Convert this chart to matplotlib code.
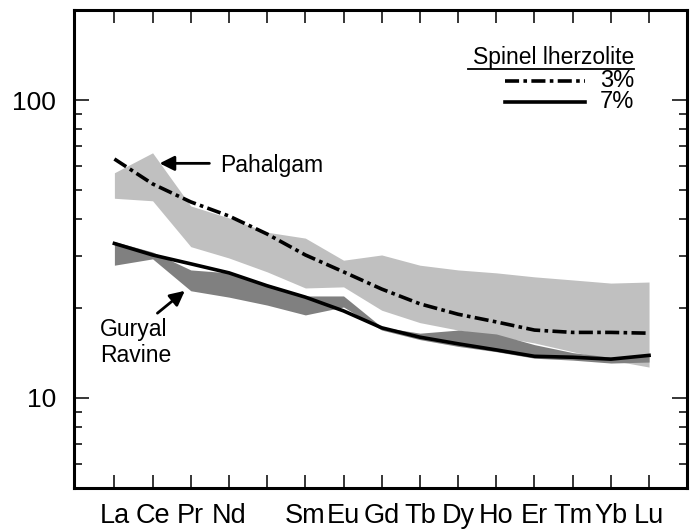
import numpy as np
import matplotlib
matplotlib.use('Agg')
import matplotlib.pyplot as plt
from matplotlib.ticker import LogLocator, NullFormatter, FixedLocator, FixedFormatter

plt.rcParams['font.family'] = ['Liberation Sans', 'DejaVu Sans']
NARROW = ['Liberation Sans Narrow', 'Liberation Sans']

# REE order (Pm has a tick but no label)
elements = ['La', 'Ce', 'Pr', 'Nd', '', 'Sm', 'Eu', 'Gd', 'Tb', 'Dy', 'Ho', 'Er', 'Tm', 'Yb', 'Lu']
xpos = np.arange(1, len(elements) + 1)

# Pahalgam field (light grey)
pahalgam_hi = [57.0, 66.5, 44.1, 40.2, 36.0, 34.4, 29.0, 30.2, 27.9, 26.9, 26.3, 25.5, 24.9, 24.3, 24.5]
pahalgam_lo = [46.8, 45.9, 32.2, 29.5, 26.5, 23.4, 23.6, 19.7, 17.9, 16.9, 16.1, 15.3, 14.3, 13.4, 12.7]

# Guryal Ravine field (dark grey)
guryal_hi = [33.5, 30.9, 26.9, 26.3, 24.1, 22.0, 22.0, 17.3, 16.5, 16.9, 16.4, 15.1, 14.2, 13.7, 13.9]
guryal_lo = [27.9, 29.3, 22.9, 21.8, 20.5, 19.0, 20.2, 16.9, 15.7, 14.9, 14.3, 13.6, 13.4, 13.1, 13.2]

# spinel lherzolite melting models
melt_3 = [63.4, 52.3, 45.5, 40.8, 35.5, 30.2, 26.5, 23.2, 20.7, 19.1, 18.0, 16.9, 16.6, 16.6, 16.5]
melt_7 = [33.0, 30.2, 28.2, 26.3, 23.8, 21.8, 19.6, 17.2, 16.0, 15.2, 14.5, 13.8, 13.7, 13.5, 13.9]

DASHDOT = (3.9, 1.2, 1.0, 1.2)
LW = 2.6

fig = plt.figure(figsize=(6.97, 5.29), dpi=100)
ax = fig.add_axes([0.1066, 0.0781, 0.8794, 0.9024])

ax.fill_between(xpos, pahalgam_lo, pahalgam_hi, color='#c0c0c0', lw=0, zorder=1)
ax.fill_between(xpos, guryal_lo, guryal_hi, color='#808080', lw=0, zorder=2)

ax.plot(xpos, melt_3, color='black', lw=LW, dashes=DASHDOT, zorder=3)
ax.plot(xpos, melt_7, color='black', lw=LW, zorder=3)

ax.set_yscale('log')
ax.set_ylim(5, 200)
ax.set_xlim(-0.05, 16)

ax.xaxis.set_major_locator(FixedLocator(xpos))
ax.xaxis.set_major_formatter(FixedFormatter(elements))
ax.yaxis.set_minor_locator(LogLocator(base=10, subs=np.arange(2, 10), numticks=10))
ax.yaxis.set_minor_formatter(NullFormatter())
ax.set_yticks([10, 100])
ax.set_yticklabels(['10', '100'])

ax.tick_params(axis='x', which='major', direction='in', top=True, length=9.5, width=1.1,
               labelsize=19.5, pad=11)
ax.tick_params(axis='y', which='major', direction='in', right=True, length=10.5, width=1.1,
               labelsize=19, pad=13)
ax.tick_params(axis='y', which='minor', direction='in', right=True, length=6, width=1.1)
for lab in ax.get_xticklabels():
    lab.set_family(NARROW)
for s in ax.spines.values():
    s.set_linewidth(2.2)

# annotations
ax.annotate('', xy=(2.11, 61.3), xytext=(3.56, 61.3),
            arrowprops=dict(arrowstyle='-|>', color='black', lw=2, mutation_scale=22))
ax.text(3.77, 60.5, 'Pahalgam', fontsize=16.5, va='center', ha='left')

ax.annotate('', xy=(2.9, 23.2), xytext=(2.07, 19.0),
            arrowprops=dict(arrowstyle='-|>', color='black', lw=2, mutation_scale=22))
ax.text(0.63, 18.5, 'Guryal\nRavine', fontsize=16.5, va='top', ha='left', linespacing=1.15)

# legend drawn by hand
ax.text(0.913, 0.902, 'Spinel lherzolite', transform=ax.transAxes, fontsize=16.5,
        ha='right', va='center')
ax.plot([0.642, 0.913], [0.877, 0.877], transform=ax.transAxes, color='black', lw=1.3)
ax.plot([0.702, 0.833], [0.852, 0.852], transform=ax.transAxes, color='black', lw=LW,
        dashes=DASHDOT)
ax.plot([0.702, 0.833], [0.808, 0.808], transform=ax.transAxes, color='black', lw=LW)
ax.text(0.913, 0.852, '3%', transform=ax.transAxes, fontsize=17, ha='right', va='center')
ax.text(0.913, 0.808, '7%', transform=ax.transAxes, fontsize=17, ha='right', va='center')

fig.savefig('out.png', dpi=100)
